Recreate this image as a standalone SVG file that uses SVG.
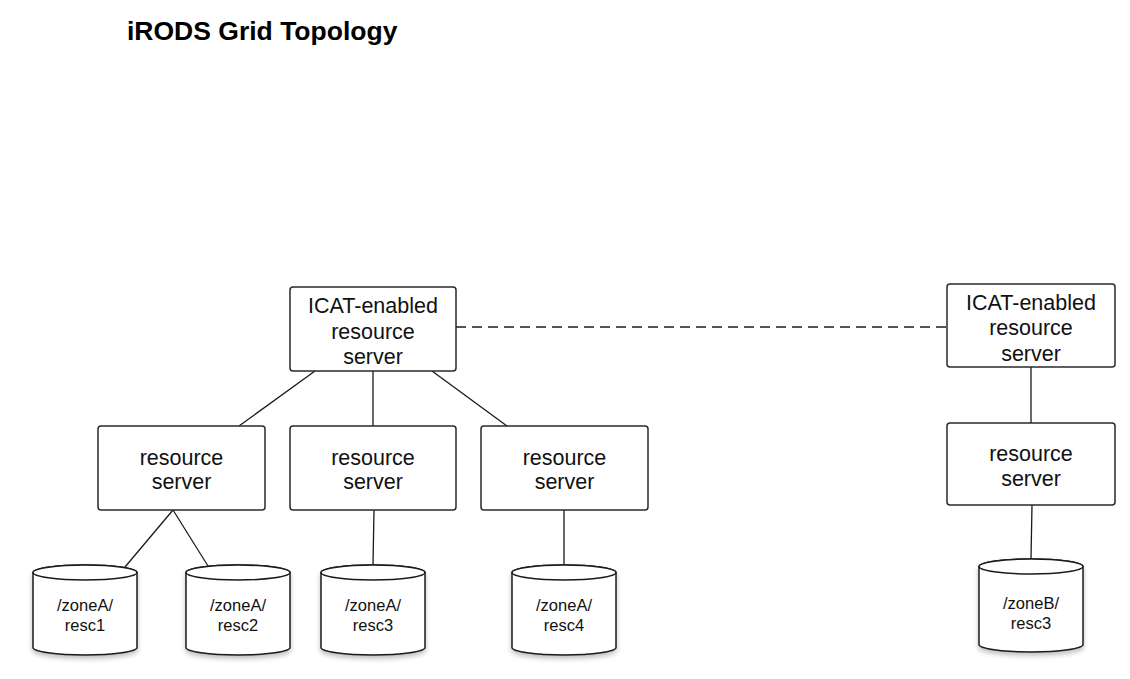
<svg xmlns="http://www.w3.org/2000/svg" width="1130" height="679" viewBox="0 0 1130 679">
  <style>
    .box { fill: #ffffff; stroke: #2a2a2a; stroke-width: 1.5; }
    .cyl { fill: #ffffff; stroke: #1a1a1a; stroke-width: 1.5; }
    .edge { fill: none; stroke: #1a1a1a; stroke-width: 1.3; }
    .dash { stroke-dasharray: 10 6; }
    .lbl { font-family: "Liberation Sans", Arial, sans-serif; font-size: 21.5px; fill: #111111; text-anchor: middle; }
    .clbl { font-family: "Liberation Sans", Arial, sans-serif; font-size: 16.5px; fill: #111111; text-anchor: middle; }
    .title { font-family: "Liberation Sans", Arial, sans-serif; font-size: 26.5px; font-weight: bold; fill: #000000; }
  </style>
  <defs>
    <filter id="shadow" x="-20%" y="-20%" width="140%" height="150%">
      <feDropShadow dx="0" dy="3" stdDeviation="2.5" flood-color="#000000" flood-opacity="0.25"/>
    </filter>
  </defs>
  <rect width="1130" height="679" fill="#ffffff"/>

  <text class="title" x="127" y="40">iRODS Grid Topology</text>

  <g id="connectors">
    <line class="edge" x1="315" y1="371" x2="239" y2="426"/>
    <line class="edge" x1="373" y1="371" x2="373" y2="426"/>
    <line class="edge" x1="432" y1="371" x2="507" y2="426"/>
    <line class="edge dash" x1="456" y1="327" x2="947" y2="327"/>
    <line class="edge" x1="1031" y1="367" x2="1031" y2="423"/>
    <line class="edge" x1="173" y1="510" x2="125" y2="567"/>
    <line class="edge" x1="173" y1="510" x2="208" y2="566"/>
    <line class="edge" x1="374" y1="510" x2="373" y2="565"/>
    <line class="edge" x1="564" y1="510" x2="564" y2="565"/>
    <line class="edge" x1="1032" y1="505" x2="1031" y2="559"/>
  </g>

  <g id="icat-a">
    <rect class="box" x="290" y="287" width="166" height="84" rx="3"/>
    <text class="lbl" x="373" y="313">ICAT-enabled</text>
    <text class="lbl" x="373" y="338.5">resource</text>
    <text class="lbl" x="373" y="364">server</text>
  </g>
  <g id="rs1">
    <rect class="box" x="98" y="426" width="167" height="84" rx="3"/>
    <text class="lbl" x="181.5" y="464.5">resource</text>
    <text class="lbl" x="181.5" y="489">server</text>
  </g>
  <g id="rs2">
    <rect class="box" x="290" y="426" width="166" height="84" rx="3"/>
    <text class="lbl" x="373" y="464.5">resource</text>
    <text class="lbl" x="373" y="489">server</text>
  </g>
  <g id="rs3">
    <rect class="box" x="481" y="426" width="167" height="84" rx="3"/>
    <text class="lbl" x="564.5" y="464.5">resource</text>
    <text class="lbl" x="564.5" y="489">server</text>
  </g>
  <g id="icat-b">
    <rect class="box" x="947" y="284" width="168" height="83" rx="3"/>
    <text class="lbl" x="1031" y="309.5">ICAT-enabled</text>
    <text class="lbl" x="1031" y="335">resource</text>
    <text class="lbl" x="1031" y="360.5">server</text>
  </g>
  <g id="rs-b">
    <rect class="box" x="947" y="423" width="168" height="82" rx="3"/>
    <text class="lbl" x="1031" y="461">resource</text>
    <text class="lbl" x="1031" y="486">server</text>
  </g>

  <g id="cyl-a1">
    <path class="cyl" filter="url(#shadow)" d="M33,572.5 L33,647.5 A52,7.5 0 0 0 137,647.5 L137,572.5 A52,7.5 0 0 0 33,572.5 Z"/>
    <ellipse class="cyl" cx="85" cy="572.5" rx="52" ry="7.5"/>
    <text class="clbl" x="85" y="611">/zoneA/</text>
    <text class="clbl" x="85" y="631">resc1</text>
  </g>
  <g id="cyl-a2">
    <path class="cyl" filter="url(#shadow)" d="M186,572.5 L186,647.5 A52,7.5 0 0 0 290,647.5 L290,572.5 A52,7.5 0 0 0 186,572.5 Z"/>
    <ellipse class="cyl" cx="238" cy="572.5" rx="52" ry="7.5"/>
    <text class="clbl" x="238" y="611">/zoneA/</text>
    <text class="clbl" x="238" y="631">resc2</text>
  </g>
  <g id="cyl-a3">
    <path class="cyl" filter="url(#shadow)" d="M321,572.5 L321,647.5 A52,7.5 0 0 0 425,647.5 L425,572.5 A52,7.5 0 0 0 321,572.5 Z"/>
    <ellipse class="cyl" cx="373" cy="572.5" rx="52" ry="7.5"/>
    <text class="clbl" x="373" y="611">/zoneA/</text>
    <text class="clbl" x="373" y="631">resc3</text>
  </g>
  <g id="cyl-a4">
    <path class="cyl" filter="url(#shadow)" d="M512,572.5 L512,647.5 A52,7.5 0 0 0 616,647.5 L616,572.5 A52,7.5 0 0 0 512,572.5 Z"/>
    <ellipse class="cyl" cx="564" cy="572.5" rx="52" ry="7.5"/>
    <text class="clbl" x="564" y="611">/zoneA/</text>
    <text class="clbl" x="564" y="631">resc4</text>
  </g>
  <g id="cyl-b3">
    <path class="cyl" filter="url(#shadow)" d="M979,566.5 L979,644.5 A52,7.5 0 0 0 1083,644.5 L1083,566.5 A52,7.5 0 0 0 979,566.5 Z"/>
    <ellipse class="cyl" cx="1031" cy="566.5" rx="52" ry="7.5"/>
    <text class="clbl" x="1031" y="609">/zoneB/</text>
    <text class="clbl" x="1031" y="629">resc3</text>
  </g>
</svg>
